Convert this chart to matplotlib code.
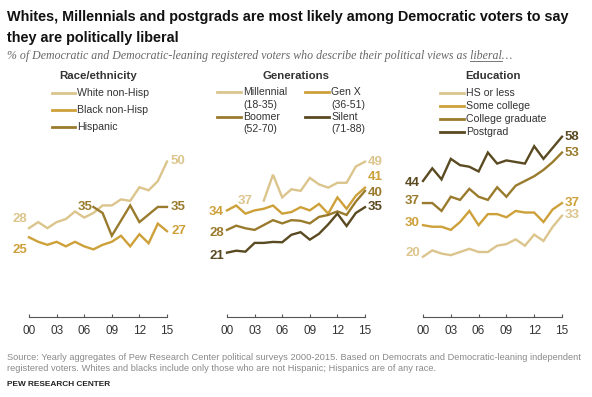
import matplotlib
matplotlib.use("Agg")
import matplotlib.pyplot as plt
import numpy as np
from matplotlib.lines import Line2D

W, H, DPI = 592, 397, 100

# ---------------- data ----------------
years = list(range(2000, 2016))
tick_years = [2000, 2003, 2006, 2009, 2012, 2015]
tick_labels = ["00", "03", "06", "09", "12", "15"]
nan = np.nan

# Race/ethnicity
race_names = ["White non-Hisp", "Black non-Hisp", "Hispanic"]
white = [28, 30, 28, 30, 31, 33.5, 31.5, 33, 35.5, 35.5, 37.5, 37, 41.5, 40.5, 43.5, 50]
black = [25, 23.5, 22.5, 23.5, 22, 23.5, 22, 21, 22.5, 23.5, 25.5, 22, 26, 23, 29.5, 27]
hispanic = [nan, nan, nan, nan, nan, nan, nan, 35, 33, 25.5, 30.5, 35.5, 30, 32.5, 35, 35]

# Generations
gen_names = ["Millennial", "Gen X", "Boomer", "Silent"]
gen_ages = ["(18-35)", "(36-51)", "(52-70)", "(71-88)"]
millennial = [nan, nan, nan, nan, 37, 45, 38, 40.5, 40, 44, 42, 41, 42.5, 42.5, 47.5, 49]
genx = [34, 35.5, 33, 34, 34.5, 35.5, 33, 33.5, 35, 34, 36, 33, 38, 34.5, 38.5, 41]
boomer = [28, 29.3, 28.5, 28, 29.5, 31, 30, 31, 30.8, 30, 32, 32.6, 33.7, 32.6, 36.7, 40]
silent = [21, 21.6, 21.3, 24, 24, 24.3, 24.2, 26.5, 27.3, 25, 26.8, 29.7, 33, 29.2, 33.2, 35]

# Education
edu_names = ["HS or less", "Some college", "College graduate", "Postgrad"]
hs = [20, 22, 21, 20.5, 21.5, 22.5, 21.5, 21.5, 23.5, 24, 25.5, 23.5, 27, 25, 29.5, 33]
somecol = [30, 29.5, 29.5, 28.5, 31, 34.5, 30, 33.5, 33.5, 32.5, 34.5, 34, 34, 31, 35, 37]
colgrad = [37, 37, 34.5, 39, 38, 41.5, 39, 38, 42, 39, 42.5, 44, 45.5, 47.5, 50, 53]
postgrad = [44, 48, 44.5, 51, 49, 48.5, 47, 53, 49.5, 50.5, 50, 49.5, 55, 51, 54.5, 58]

title1 = "Whites, Millennials and postgrads are most likely among Democratic voters to say"
title2 = "they are politically liberal"
sub_pre = "% of Democratic and Democratic-leaning registered voters who describe their political views as "
sub_ul = "liberal"
sub_post = "\u2026"
source1 = ("Source: Yearly aggregates of Pew Research Center political surveys 2000-2015. Based on Democrats "
           "and Democratic-leaning independent")
source2 = "registered voters. Whites and blacks include only those who are not Hispanic; Hispanics are of any race."
credit = "PEW RESEARCH CENTER"
panel_titles = ["Race/ethnicity", "Generations", "Education"]

# ---------------- style ----------------
C1, C2, C3, C4 = "#DCC58D", "#CDA03A", "#9A7B2E", "#5A4A22"
NARROW = ["Liberation Sans Narrow", "Liberation Sans", "DejaVu Sans"]
SERIF = ["Liberation Serif", "DejaVu Serif"]
TXT = "#333333"
LW = 1.7

fig = plt.figure(figsize=(W / DPI, H / DPI), dpi=DPI)
fig.patch.set_facecolor("white")
R = fig.canvas.get_renderer()


def fx(x):
    return x / W


def fy(y):
    return 1 - y / H


def fit(t, target):
    w = t.get_window_extent(R).width
    t.set_fontsize(t.get_fontsize() * target / w)
    return t


# titles
t = fig.text(fx(7), fy(21), title1, fontsize=11, fontweight="bold", family=NARROW, color="#111111")
fit(t, 563)
fig.text(fx(7), fy(42), title2, fontsize=t.get_fontsize(), fontweight="bold", family=NARROW, color="#111111")

sub_kw = dict(fontsize=8, style="italic", family=SERIF, color="#666666")
full = fig.text(fx(7), fy(59), sub_pre + sub_ul + sub_post, **sub_kw)
fit(full, 511)
sfs = full.get_fontsize()
probe = fig.text(fx(7), fy(59), sub_pre + sub_ul, **dict(sub_kw, fontsize=sfs))
pb = probe.get_window_extent(R)
probe.remove()
probe2 = fig.text(0, 0, sub_ul, **dict(sub_kw, fontsize=sfs))
wl = probe2.get_window_extent(R).width
probe2.remove()
fig.add_artist(Line2D([(pb.x1 - wl) / W, pb.x1 / W], [fy(61), fy(61)], color="#777777", lw=0.7))

# panels
panels = [
    dict(x0=29, x1=167, zero=313.0, slope=3.03, title=panel_titles[0],
         series=[white, black, hispanic], colors=[C1, C2, C3]),
    dict(x0=227, x1=365, zero=320.9, slope=3.25, title=panel_titles[1],
         series=[millennial, genx, boomer, silent], colors=[C1, C2, C3, C4]),
    dict(x0=423, x1=562, zero=319.9, slope=3.158, title=panel_titles[2],
         series=[hs, somecol, colgrad, postgrad], colors=[C1, C2, C3, C4]),
]
AX_BOT, AX_TOP = 317, 130

# label offsets (px): (series idx, 'start'/'end', dx, dy)
label_specs = [
    [(0, "s", -2, -9), (1, "s", -2, 13), (2, "s", -1, 0),
     (0, "e", 4, 0), (2, "e", 4, 0), (1, "e", 4, 0)],
    [(0, "s", -11, 0), (1, "s", -3, 2), (2, "s", -3, 3), (3, "s", -3, 3),
     (0, "e", 3, 0), (1, "e", 3, -11), (2, "e", 3, 2), (3, "e", 3, 0)],
    [(3, "s", -3, 2), (2, "s", -3, -2), (1, "s", -3, -2), (0, "s", -3, -4),
     (3, "e", 3, 0), (2, "e", 3, 0), (1, "e", 3, 0), (0, "e", 3, -1)],
]

for p, specs in zip(panels, label_specs):
    ax = fig.add_axes([fx(p["x0"]), fy(AX_BOT), (p["x1"] - p["x0"]) / W, (AX_BOT - AX_TOP) / H])
    ax.set_xlim(2000, 2015)
    ax.set_ylim((p["zero"] - AX_BOT) / p["slope"], (p["zero"] - AX_TOP) / p["slope"])
    ax.patch.set_alpha(0)
    for s in ["top", "right", "left"]:
        ax.spines[s].set_visible(False)
    ax.spines["bottom"].set_color("#555555")
    ax.spines["bottom"].set_linewidth(0.8)
    ax.set_yticks([])
    ax.set_xticks(tick_years)
    ax.set_xticklabels(tick_labels, family=NARROW, fontsize=8.5, color=TXT)
    ax.tick_params(axis="x", direction="in", length=2.5, width=0.8, color="#555555", pad=5.5)
    for ser, col in zip(p["series"], p["colors"]):
        ax.plot(years, ser, color=col, lw=LW, solid_joinstyle="miter", clip_on=False)
    for idx, end, dx, dy in specs:
        ser = p["series"][idx]
        vals = [(y, v) for y, v in zip(years, ser) if not np.isnan(v)]
        yr, v = vals[0] if end == "s" else vals[-1]
        ax.annotate(f"{v:g}", (yr, v), xytext=(dx * 0.72, -dy * 0.72), textcoords="offset points",
                    ha="right" if end == "s" else "left", va="center", fontsize=9.5,
                    fontweight="bold", family=NARROW, color=p["colors"][idx], annotation_clip=False)
    fig.text(fx((p["x0"] + p["x1"]) / 2), fy(79), p["title"], ha="center", fontsize=8.2,
             fontweight="bold", family=NARROW, color=TXT)

# legends
LEG_FS = 7.6


def leg(x0, x1, y, col, label, sub=None):
    fig.add_artist(Line2D([fx(x0), fx(x1)], [fy(y), fy(y)], color=col, lw=LW + 0.3))
    fig.text(fx(x1 + 2), fy(y), label, va="center", fontsize=LEG_FS, family=NARROW, color=TXT)
    if sub:
        fig.text(fx(x1 + 2), fy(y + 12.5), sub, va="center", fontsize=LEG_FS, family=NARROW, color=TXT)


for i, (n, c) in enumerate(zip(race_names, [C1, C2, C3])):
    leg(52, 75, 93 + 17 * i, c, n)
gen_pos = [(217, 241, 92), (305, 329, 92), (217, 241, 117), (305, 329, 117)]
for (a, b, y), n, ag, c in zip(gen_pos, gen_names, gen_ages, [C1, C2, C3, C4]):
    leg(a, b, y, c, n, ag)
for i, (n, c) in enumerate(zip(edu_names, [C1, C2, C3, C4])):
    leg(440, 464, 92.5 + 13.3 * i, c, n)

# footer
t = fig.text(fx(7), fy(360), source1, fontsize=7, family=NARROW, color="#8a8a8a")
fit(t, 572)
fig.text(fx(7), fy(371), source2, fontsize=t.get_fontsize(), family=NARROW, color="#8a8a8a")
t2 = fig.text(fx(7), fy(386), credit, fontsize=7, fontweight="bold", family=NARROW, color="#222222")
fit(t2, 104)

fig.savefig("out.png", dpi=DPI, facecolor="white")
